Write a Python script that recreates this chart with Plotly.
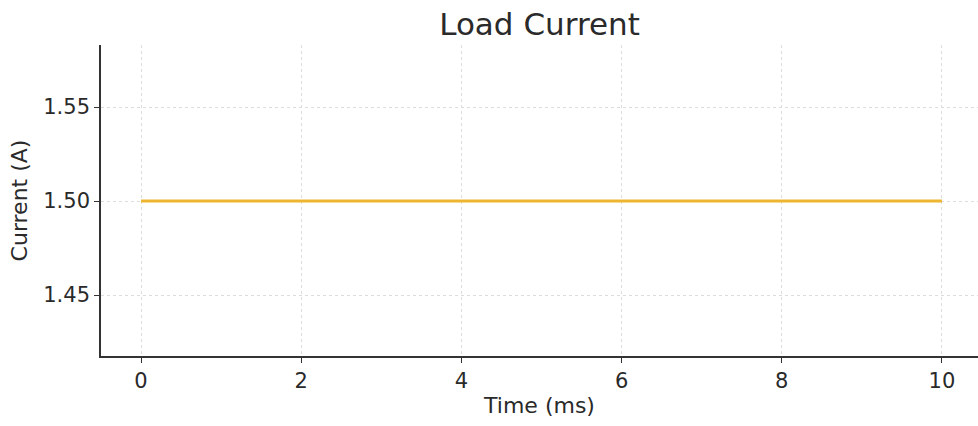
import plotly.graph_objects as go

time_ms = [0, 10]
current_a = [1.5, 1.5]
x_ticks = [0, 2, 4, 6, 8, 10]
y_ticks = [1.45, 1.50, 1.55]
y_tick_labels = ["1.45", "1.50", "1.55"]

FONT = "DejaVu Sans"
TXT = "#2a2a2a"

fig = go.Figure()
fig.add_trace(go.Scatter(
    x=time_ms, y=current_a, mode="lines",
    line=dict(color="#EDB530", width=3),
    showlegend=False,
))

fig.update_layout(
    width=978, height=426,
    margin=dict(l=101, r=0, t=45, b=70),
    paper_bgcolor="white", plot_bgcolor="white",
    font=dict(family=FONT, color=TXT, size=22),
    title=dict(text="Load Current", x=0.5, xref="paper", xanchor="center",
               y=1 - 24 / 426, yref="container", yanchor="middle",
               font=dict(size=31, family=FONT, color=TXT)),
)
fig.update_xaxes(
    range=[-0.5, 10.45], tickvals=x_ticks, ticktext=[str(v) for v in x_ticks],
    showline=True, linecolor="#333333", linewidth=1.6,
    ticks="outside", ticklen=5, tickwidth=1.2, tickcolor="#333333",
    showgrid=True, gridcolor="#dcdcdc", griddash="dot", gridwidth=1,
    zeroline=False, tickfont=dict(size=21),
    title=dict(text="Time (ms)", font=dict(size=22), standoff=6),
)
fig.update_yaxes(
    range=[1.4176, 1.5830], tickvals=y_ticks, ticktext=y_tick_labels,
    showline=True, linecolor="#333333", linewidth=1.6,
    ticks="outside", ticklen=5, tickwidth=1.2, tickcolor="#333333",
    showgrid=True, gridcolor="#dcdcdc", griddash="dot", gridwidth=1,
    zeroline=False, tickfont=dict(size=21),
    title=dict(text="Current (A)", font=dict(size=22), standoff=10),
)

fig.write_html("out.html")
